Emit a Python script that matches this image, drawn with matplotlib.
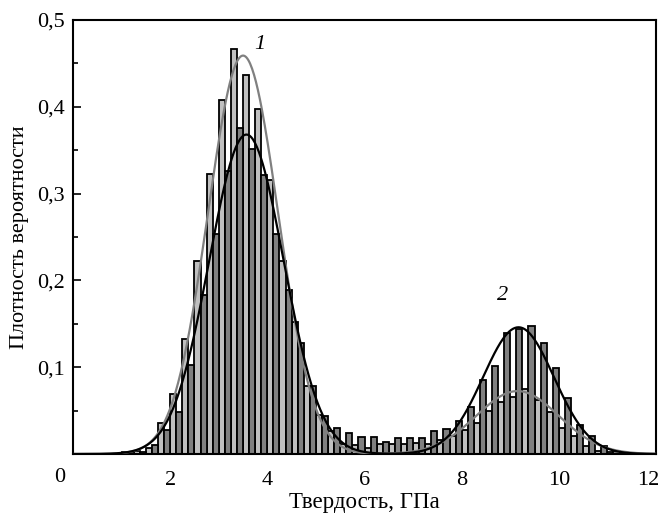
import numpy as np
import matplotlib
matplotlib.use('Agg')
from matplotlib import pyplot as plt
from matplotlib.ticker import MultipleLocator
import matplotlib.transforms as mtransforms

plt.rcParams['font.family'] = ['Liberation Serif', 'DejaVu Serif']

# bin starts, GPa (bin width 0.25, two bars per bin)
bin_start = np.arange(1.0, 11.25, 0.25)

# light bars (curve 1 dominates)
light = [0.002, 0.0035, 0.007, 0.036, 0.069, 0.133, 0.222, 0.323, 0.408, 0.467,
         0.437, 0.398, 0.316, 0.222, 0.152, 0.078, 0.045, 0.027, 0.012, 0.010,
         0.0065, 0.0115, 0.012, 0.012, 0.013, 0.012, 0.016, 0.021, 0.028, 0.036,
         0.050, 0.060, 0.066, 0.0745, 0.062, 0.048, 0.030, 0.021, 0.0096, 0.004,
         0.002]
# dark bars
dark = [0.001, 0.002, 0.010, 0.028, 0.048, 0.103, 0.183, 0.253, 0.326, 0.376,
        0.351, 0.322, 0.254, 0.189, 0.128, 0.078, 0.044, 0.030, 0.024, 0.020,
        0.020, 0.014, 0.018, 0.019, 0.018, 0.026, 0.0285, 0.038, 0.054, 0.085,
        0.101, 0.139, 0.144, 0.148, 0.128, 0.0995, 0.064, 0.033, 0.021, 0.009,
        0.003]

# fitted normal components: (peak height, mean, sigma)
gray_fit = [(0.459, 3.50, 0.72), (0.0725, 9.15, 0.85)]
black_fit = [(0.368, 3.57, 0.765), (0.146, 9.17, 0.73)]

yticks = [0.1, 0.2, 0.3, 0.4, 0.5]
ytick_labels = ['0,1', '0,2', '0,3', '0,4', '0,5']
xticks = [2, 4, 6, 8, 10, 12]


def fit_curve(x, comps):
    y = np.zeros_like(x)
    for h, m, s in comps:
        y += h * np.exp(-(x - m) ** 2 / (2 * s ** 2))
    return y


fig = plt.figure(figsize=(6.65, 5.14), dpi=100)
ax = fig.add_axes([73 / 665, 60 / 514, 583 / 665, 434 / 514])

w = 0.125
ax.bar(bin_start, light, width=w, align='edge', color='#c0c0c0',
       edgecolor='black', linewidth=1.3, zorder=2)
ax.bar(bin_start + w, dark, width=w, align='edge', color='#808080',
       edgecolor='black', linewidth=1.3, zorder=2)

xs = np.linspace(0, 12, 600)
ax.plot(xs, fit_curve(xs, gray_fit), color='#808080', lw=1.6, zorder=3)
ax.plot(xs, fit_curve(xs, black_fit), color='black', lw=1.6, zorder=4)

ax.set_xlim(0, 12)
ax.set_ylim(0, 0.5)
ax.set_xticks(xticks)
ax.set_xticklabels([str(t) for t in xticks])
ax.set_yticks(yticks)
ax.set_yticklabels(ytick_labels)
ax.yaxis.set_minor_locator(MultipleLocator(0.05))
ax.tick_params(axis='x', length=0, pad=12, labelsize=16)
ax.tick_params(axis='y', which='major', direction='in', length=6, width=1.2,
               pad=6, labelsize=16)
ax.tick_params(axis='y', which='minor', direction='in', length=3.5, width=1.2)
for sp in ax.spines.values():
    sp.set_linewidth(1.5)

# pull the last x label inside the figure
last = ax.get_xticklabels()[-1]
last.set_transform(last.get_transform() +
                   mtransforms.ScaledTranslation(-8 / 100, 0, fig.dpi_scale_trans))

ax.text(-0.022, -0.053, '0', transform=ax.transAxes, ha='center',
        va='center', fontsize=16)
ax.text(3.85, 0.472, '1', fontsize=16, style='italic', ha='center', va='center')
ax.text(8.85, 0.183, '2', fontsize=16, style='italic', ha='center', va='center')

ax.set_xlabel('Твердость, ГПа', fontsize=16.5, labelpad=2)
ax.set_ylabel('Плотность вероятности', fontsize=16, labelpad=6)

fig.savefig('out.png', dpi=100)
